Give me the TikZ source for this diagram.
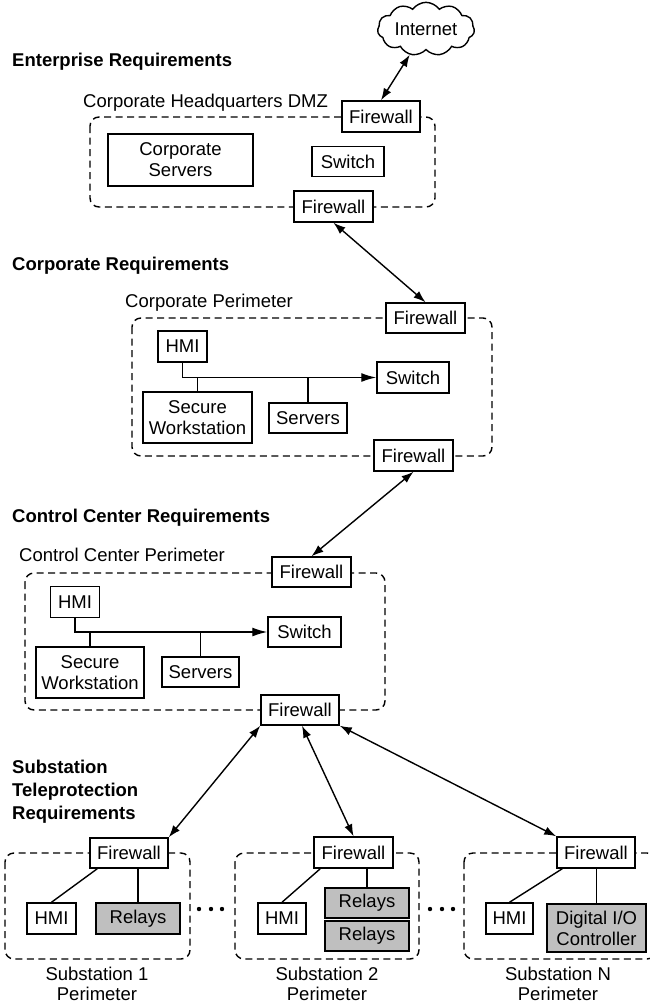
\documentclass[tikz,border=0pt]{standalone}
\usepackage{fontspec}
\setmainfont{Liberation Sans}
\usetikzlibrary{arrows.meta,shapes.symbols}
\begin{document}
\begin{tikzpicture}[x=1pt,y=-1pt,
  font=\fontsize{18.5}{21}\selectfont,
  box/.style={draw, line width=1.5pt, fill=white, inner sep=0pt, align=center},
  gbox/.style={box, fill=black!25},
  perim/.style={draw, line width=1.4pt, dash pattern=on 7pt off 4.5pt, rounded corners=9pt},
  conn/.style={line width=1.4pt},
  biarrow/.style={conn, {Latex[length=12pt,width=8.5pt]}-{Latex[length=12pt,width=8.5pt]}},
  busarrow/.style={conn, -{Latex[length=15pt,width=9pt]}},
  lbl/.style={anchor=base west, inner sep=0pt},
  blbl/.style={lbl, font=\fontsize{18.5}{23}\selectfont\bfseries},
  sublbl/.style={align=center, inner sep=0pt, font=\fontsize{18.5}{20}\selectfont}
]
\useasboundingbox (0,0) rectangle (649,1005);

% ---------- Perimeters ----------
\draw[perim] (90,117) rectangle (435,207);
\draw[perim] (132,318) rectangle (492,456);
\draw[perim] (25,573) rectangle (385,710);
\draw[perim] (5,853) rectangle (190,959);
\draw[perim] (235,853) rectangle (419,959);
\draw[perim] (464,853) rectangle (656,959);

% ---------- Labels ----------
\node[blbl] (lEnt) at (12,66) {Enterprise Requirements};
\node[lbl] (lDMZ) at (83,107) {Corporate Headquarters DMZ};
\node[blbl] (lCorp) at (12,270) {Corporate Requirements};
\node[lbl] (lCorpP) at (125,307) {Corporate Perimeter};
\node[blbl] (lCC) at (12,522) {Control Center Requirements};
\node[lbl] (lCCP) at (19,561) {Control Center Perimeter};
\node[anchor=west, inner sep=0pt, align=left, font=\fontsize{18.5}{23}\selectfont\bfseries] (lSub) at (12,792) {Substation\\Teleprotection\\Requirements};
\node[sublbl] (lS1) at (97,984) {Substation 1\\Perimeter};
\node[sublbl] (lS2) at (327,984) {Substation 2\\Perimeter};
\node[sublbl] (lSN) at (558,984) {Substation N\\Perimeter};

% ---------- Internet ----------
\node[cloud, draw, line width=1.4pt, cloud puffs=11, cloud puff arc=110, aspect=2.2,
      inner sep=1pt, minimum width=97pt, minimum height=48pt] (inet) at (426,29) {Internet};

% ---------- DMZ ----------
\node[box, minimum width=78pt, minimum height=31pt] (fwA) at (381,116.5) {Firewall};
\node[box, minimum width=79pt, minimum height=31pt] (fwB) at (333.5,206.5) {Firewall};
\node[box, minimum width=145pt, minimum height=52pt] (csrv) at (180.5,160) {Corporate\\Servers};
\node[box, minimum width=72pt, minimum height=30pt] (swA) at (348,161.5) {Switch};

% ---------- Corporate ----------
\node[box, minimum width=79pt, minimum height=30pt] (fwC) at (425.5,318) {Firewall};
\node[box, minimum width=79pt, minimum height=31pt] (fwD) at (413.5,455.5) {Firewall};
\node[box, minimum width=49pt, minimum height=31pt] (hmiC) at (182.5,346.5) {HMI};
\node[box, minimum width=72pt, minimum height=31pt] (swC) at (413,377.5) {Switch};
\node[box, minimum width=109pt, minimum height=51pt] (wsC) at (197.5,417.5) {Secure\\Workstation};
\node[box, minimum width=78pt, minimum height=30pt] (srvC) at (308,418) {Servers};

% ---------- Control Center ----------
\node[box, minimum width=79pt, minimum height=30pt] (fwE) at (311.5,572) {Firewall};
\node[box, minimum width=78pt, minimum height=30pt] (fwF) at (300,710) {Firewall};
\node[box, minimum width=49pt, minimum height=31pt] (hmiE) at (75,602) {HMI};
\node[box, minimum width=73pt, minimum height=30pt] (swE) at (304.5,632) {Switch};
\node[box, minimum width=108pt, minimum height=51pt] (wsE) at (90,672.5) {Secure\\Workstation};
\node[box, minimum width=77pt, minimum height=30pt] (srvE) at (200.5,672) {Servers};

% ---------- Substations ----------
\node[box, minimum width=78pt, minimum height=30pt] (fw1) at (129,853) {Firewall};
\node[box, minimum width=49pt, minimum height=31pt] (hmi1) at (51.5,918.5) {HMI};
\node[gbox, minimum width=84pt, minimum height=31pt] (rel1) at (138,918.5) {Relays};

\node[box, minimum width=79pt, minimum height=31pt] (fw2) at (353.5,852.5) {Firewall};
\node[box, minimum width=48pt, minimum height=31pt] (hmi2) at (282,918.5) {HMI};
\node[gbox, minimum width=84pt, minimum height=30pt] (rel2a) at (367,903) {Relays};
\node[gbox, minimum width=84pt, minimum height=30pt] (rel2b) at (367,936) {Relays};

\node[box, minimum width=78pt, minimum height=31pt] (fwN) at (596,852.5) {Firewall};
\node[box, minimum width=47pt, minimum height=31pt] (hmiN) at (509.5,918.5) {HMI};
\node[gbox, minimum width=99pt, minimum height=48pt] (dio) at (596.5,928) {Digital I/O\\Controller};

\foreach \x in {199,211,222,430,442,453} \fill (\x,909) circle (2.2pt);

% ---------- Connectors ----------
\draw[biarrow] (inet) -- (fwA.north);
\draw[biarrow] (fwB.south) -- (fwC.north);
\draw[biarrow] (fwD.south) -- (fwE.north);
\draw[biarrow] (fwF.south west) -- (fw1.north east);
\draw[biarrow] ([xshift=2pt]fwF.south) -- (fw2.north);
\draw[biarrow] (fwF.south east) -- (fwN.north west);

\draw[busarrow] (hmiC.south) |- (swC.west);
\draw[conn] (wsC.north) -- (wsC.north |- swC.west);
\draw[conn] (srvC.north) -- (srvC.north |- swC.west);

\draw[busarrow] (hmiE.south) |- (swE.west);
\draw[conn] (wsE.north) -- (wsE.north |- swE.west);
\draw[conn] (srvE.north) -- (srvE.north |- swE.west);

\draw[conn] ([xshift=8pt]fw1.south west) -- (hmi1.north);
\draw[conn] (rel1.north |- fw1.south) -- (rel1.north);
\draw[conn] ([xshift=7pt]fw2.south west) -- (hmi2.north);
\draw[conn] (rel2a.north |- fw2.south) -- (rel2a.north);
\draw[conn] ([xshift=6pt]fwN.south west) -- (hmiN.north);
\draw[conn] (dio.north |- fwN.south) -- (dio.north);
\end{tikzpicture}
\end{document}
